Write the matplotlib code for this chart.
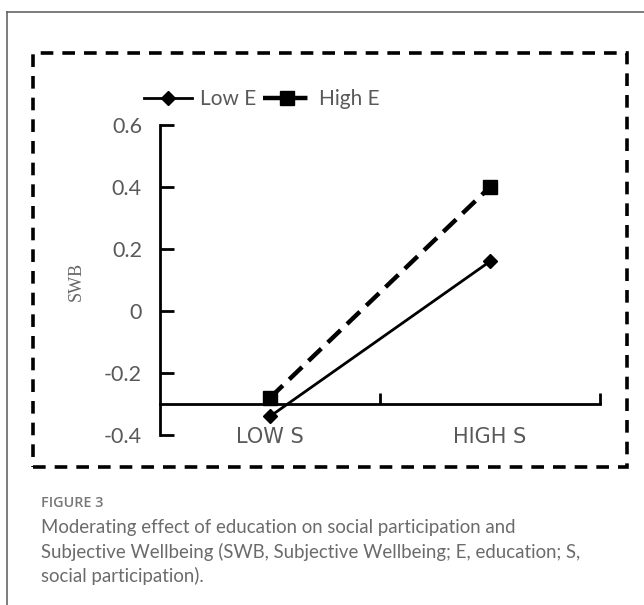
import matplotlib.pyplot as plt
from matplotlib.patches import Rectangle
from matplotlib.lines import Line2D

# data
categories = ["LOW S", "HIGH S"]
low_e = [-0.34, 0.16]
high_e = [-0.28, 0.40]
y_ticks = [-0.4, -0.2, 0, 0.2, 0.4, 0.6]
y_tick_labels = ["-0.4", "-0.2", "0", "0.2", "0.4", "0.6"]
caption_head = "FIGURE 3"
caption_lines = [
    "Moderating effect of education on social participation and",
    "Subjective Wellbeing (SWB, Subjective Wellbeing; E, education; S,",
    "social participation).",
]

W, H = 644, 605
fig = plt.figure(figsize=(W / 100, H / 100), dpi=100)
fig.patch.set_facecolor("white")

def fx(px):
    return px / W

def fy(py):
    return 1 - py / H

# outer frame (left and top edges only visible)
fig.add_artist(Line2D([fx(7), fx(7)], [fy(12), 0], color="#666666", lw=1.2))
fig.add_artist(Line2D([fx(7), 1], [fy(12), fy(12)], color="#666666", lw=1.2))

# dashed box around the chart
box = Rectangle((fx(33), fy(467)), fx(627) - fx(33), fy(53) - fy(467),
                transform=fig.transFigure, fill=False, lw=2.6,
                linestyle=(0, (3.5, 2.5)), edgecolor="black")
fig.add_artist(box)

ax = fig.add_axes([fx(160), fy(435), fx(600) - fx(160), fy(125) - fy(435)])
xs = [0.5, 1.5]
ax.plot(xs, low_e, color="black", lw=2, marker="D", markersize=7, label="Low E")
ax.plot(xs, high_e, color="black", lw=3.2, linestyle=(0, (4, 2)), marker="s",
        markersize=10, label="High E")

ax.set_xlim(0, 2)
ax.set_ylim(-0.4, 0.6)
ax.set_yticks(y_ticks)
ax.set_yticklabels(y_tick_labels)
ax.spines["top"].set_visible(False)
ax.spines["right"].set_visible(False)
ax.spines["left"].set_linewidth(2)
ax.spines["bottom"].set_linewidth(2)
ax.spines["bottom"].set_position(("data", -0.3))
ax.set_xticks([1, 2])
ax.set_xticklabels([])
ax.tick_params(axis="x", direction="in", length=8, width=2)
ax.tick_params(axis="y", direction="in", length=10, width=2, pad=13,
               labelsize=15.5, labelcolor="#595959")
for lbl in ax.get_yticklabels():
    lbl.set_fontfamily("Lato")

for x, c in zip(xs, categories):
    ax.text(x, -0.405, c, ha="center", va="center", fontsize=15, color="#595959",
            family="DejaVu Sans")

fig.text(fx(76), fy(281), "SWB", rotation=90, ha="center", va="center",
         fontsize=13, color="#666666", family="Liberation Serif")

ax.legend(loc="center", bbox_to_anchor=(fx(262), fy(99)),
          bbox_transform=fig.transFigure, ncol=2, frameon=False,
          handlelength=2.3, handletextpad=0.4, columnspacing=0.3,
          prop={"family": "Lato", "size": 15}, labelcolor="#595959")

head = fig.text(fx(41), fy(503), caption_head, ha="left", va="center", fontsize=11,
                color="#777777", family="Open Sans", fontweight="semibold")
# scale the heading so it spans about 62 px like the reference
renderer = fig.canvas.get_renderer()
w = head.get_window_extent(renderer).width
head.set_fontsize(11 * 62 / w)

for i, line in enumerate(caption_lines):
    fig.text(fx(41), fy(528 + 24 * i), line, ha="left", va="center",
             fontsize=13.4, color="#6b6b6b", family="Lato")

fig.savefig("out.png", dpi=100)
